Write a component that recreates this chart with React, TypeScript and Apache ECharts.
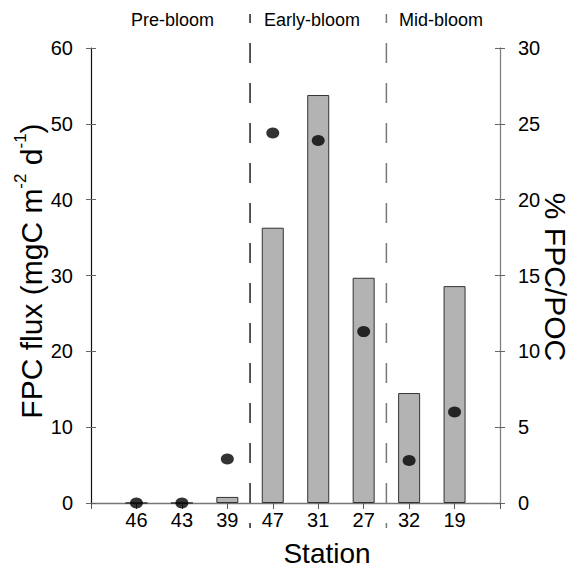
import React, { useEffect, useRef } from "react";
import * as echarts from "echarts";

const stations = ["46", "43", "39", "47", "31", "27", "32", "19"];
const fpcFlux = [0, 0, 0.8, 36.3, 53.8, 29.7, 14.5, 28.6];
const fpcPocPct = [0, 0, 2.9, 24.4, 23.9, 11.3, 2.8, 6.0];
const phaseNames = ["Pre-bloom", "Early-bloom", "Mid-bloom"];
const phaseBreaks = [3, 6];
const leftAxis = { min: 0, max: 60, interval: 10 };
const rightAxis = { min: 0, max: 30, interval: 5 };

const FONT = "'Liberation Sans', Arial, Helvetica, sans-serif";

export default function App() {
  const ref = useRef<HTMLDivElement>(null);
  useEffect(() => {
    if (!ref.current) return;
    const chart = echarts.init(ref.current, null, { renderer: "svg" });
    const cats = ["", ...stations, ""];
    const barData = [null, ...fpcFlux, null];
    const dotData = [null, ...fpcPocPct, null];
    const tickLabel = { color: "#000", fontSize: 20, fontFamily: FONT };
    chart.setOption({
      animation: false,
      backgroundColor: "#fff",
      grid: { left: 91, right: 74, top: 48, bottom: 67, containLabel: false },
      xAxis: {
        type: "category",
        data: cats,
        boundaryGap: false,
        axisLine: { lineStyle: { color: "#777", width: 1.3 } },
        axisTick: { show: true, inside: false, length: 6, interval: 0, lineStyle: { color: "#555" } },
        axisLabel: { ...tickLabel, margin: 7, interval: 0 },
        splitLine: { show: false },
      },
      yAxis: [
        {
          type: "value", position: "left", ...leftAxis,
          axisLine: { show: true, lineStyle: { color: "#111", width: 1.2 } },
          axisTick: { show: true, length: 5, lineStyle: { color: "#666" } },
          axisLabel: { ...tickLabel, margin: 18 },
          splitLine: { show: false },
        },
        {
          type: "value", position: "right", ...rightAxis,
          axisLine: { show: true, lineStyle: { color: "#808080", width: 1.3 } },
          axisTick: { show: true, length: 5, lineStyle: { color: "#666" } },
          axisLabel: { ...tickLabel, margin: 18 },
          splitLine: { show: false },
        },
        {
          type: "value", position: "left", ...leftAxis,
          axisLine: { show: false },
          axisTick: { show: true, inside: true, length: 5, lineStyle: { color: "#666" } },
          axisLabel: { show: false },
          splitLine: { show: false },
        },
        {
          type: "value", position: "right", ...rightAxis,
          axisLine: { show: false },
          axisTick: { show: true, inside: true, length: 5, lineStyle: { color: "#666" } },
          axisLabel: { show: false },
          splitLine: { show: false },
        },
      ],
      series: [
        {
          type: "bar",
          data: barData,
          yAxisIndex: 0,
          barWidth: 22,
          itemStyle: { color: "#b3b3b3", borderColor: "#333", borderWidth: 1 },
          z: 2,
        },
        {
          type: "scatter",
          data: dotData,
          yAxisIndex: 1,
          symbol: "circle",
          symbolSize: [13, 11],
          itemStyle: { color: "#000" },
          z: 3,
        },
      ],
    });

    const px = (i: number) => chart.convertToPixel({ xAxisIndex: 0 }, i) as number;
    const seps = phaseBreaks.map((b) => (px(b) + px(b + 1)) / 2);
    const graphics: any[] = [];
    seps.forEach((x, i) => {
      graphics.push({
        type: "line",
        shape: { x1: x, y1: 14, x2: x, y2: 528 },
        style: { stroke: i === 0 ? "#222" : "#777", lineWidth: 1.5, lineDash: [20, 20], lineDashOffset: 11 },
        z: 1,
      });
    });
    const phaseStyle = { fill: "#000", fontSize: 18, fontFamily: FONT, verticalAlign: "middle" };
    graphics.push({ type: "text", x: seps[0] - 36, y: 20, style: { ...phaseStyle, text: phaseNames[0], align: "right" } });
    graphics.push({ type: "text", x: seps[0] + 14, y: 20, style: { ...phaseStyle, text: phaseNames[1], align: "left" } });
    graphics.push({ type: "text", x: seps[1] + 12.5, y: 20, style: { ...phaseStyle, text: phaseNames[2], align: "left" } });
    graphics.push({
      type: "text", x: 327, y: 553,
      style: { text: "Station", fill: "#000", fontSize: 28, fontFamily: FONT, align: "center", verticalAlign: "middle" },
    });
    graphics.push({
      type: "text", x: 29, y: 271, rotation: Math.PI / 2,
      style: {
        text: "{m|FPC flux (mgC m}{s|-2}{m| d}{s|-1}{m|)}",
        align: "center", verticalAlign: "middle",
        rich: {
          m: { fontSize: 30, fontFamily: FONT, fill: "#000", lineHeight: 34, verticalAlign: "bottom" },
          s: { fontSize: 17, fontFamily: FONT, fill: "#000", lineHeight: 34, verticalAlign: "top", padding: [0, 0, 9, 0] },
        },
      },
    });
    graphics.push({
      type: "text", x: 555, y: 277, rotation: -Math.PI / 2,
      style: { text: "% FPC/POC", fill: "#000", fontSize: 30, fontFamily: FONT, align: "center", verticalAlign: "middle" },
    });
    chart.setOption({ graphic: graphics });

    return () => chart.dispose();
  }, []);
  return <div ref={ref} style={{ position: "absolute", left: 0, top: 0, width: 574, height: 570 }} />;
}
